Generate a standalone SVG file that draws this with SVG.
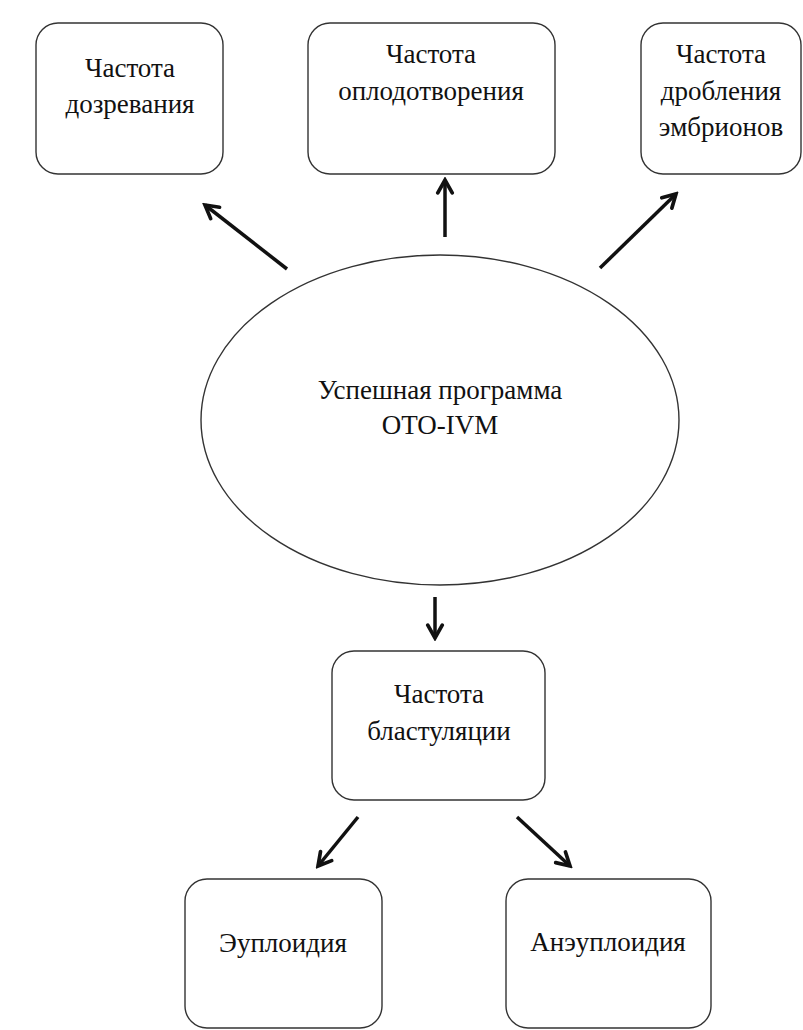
<svg xmlns="http://www.w3.org/2000/svg" width="803" height="1030" viewBox="0 0 803 1030">
<style>
.box{fill:#fff;stroke:#333;stroke-width:1.4}
.t{font-family:"Liberation Serif","Times New Roman",serif;font-size:27px;fill:#111;text-anchor:middle}
.arr{stroke:#111;stroke-width:3.5;fill:none;marker-end:url(#ah)}
</style>
<defs>
<marker id="ah" viewBox="0 0 12 12" refX="10" refY="6" markerWidth="5.5" markerHeight="5.5" orient="auto" markerUnits="strokeWidth">
<polyline points="2,1.5 10,6 2,10.5" fill="none" stroke="#111" stroke-width="2.3" stroke-linecap="round" stroke-linejoin="miter"/>
</marker>
</defs>
<rect width="803" height="1030" fill="#fff"/>
<g id="connectors">
<line class="arr" x1="287" y1="269" x2="205" y2="205"/>
<line class="arr" x1="445" y1="237" x2="445" y2="180"/>
<line class="arr" x1="600" y1="268" x2="676" y2="194"/>
<line class="arr" x1="435" y1="597" x2="435" y2="638"/>
<line class="arr" x1="358" y1="817" x2="318" y2="866"/>
<line class="arr" x1="517" y1="817" x2="570" y2="866"/>
</g>
<g id="n1">
<rect class="box" x="36" y="23" width="187" height="151" rx="22"/>
<text class="t" x="130" y="77">Частота</text>
<text class="t" x="130" y="113">дозревания</text>
</g>
<g id="n2">
<rect class="box" x="308" y="23" width="247" height="151" rx="22"/>
<text class="t" x="431" y="63">Частота</text>
<text class="t" x="431" y="100">оплодотворения</text>
</g>
<g id="n3">
<rect class="box" x="641" y="23" width="160" height="151" rx="22"/>
<text class="t" x="721" y="63">Частота</text>
<text class="t" x="721" y="100">дробления</text>
<text class="t" x="721" y="136">эмбрионов</text>
</g>
<g id="center">
<ellipse class="box" cx="440" cy="420" rx="239" ry="165" stroke-width="1.2"/>
<text class="t" x="440" y="399">Успешная программа</text>
<text class="t" x="440" y="434">OTO-IVM</text>
</g>
<g id="n4">
<rect class="box" x="332" y="651" width="213" height="149" rx="22"/>
<text class="t" x="439" y="703">Частота</text>
<text class="t" x="439" y="740">бластуляции</text>
</g>
<g id="n5">
<rect class="box" x="185" y="879" width="197" height="149" rx="22"/>
<text class="t" x="283" y="952">Эуплоидия</text>
</g>
<g id="n6">
<rect class="box" x="506" y="879" width="205" height="149" rx="22"/>
<text class="t" x="608" y="951">Анэуплоидия</text>
</g>
</svg>
